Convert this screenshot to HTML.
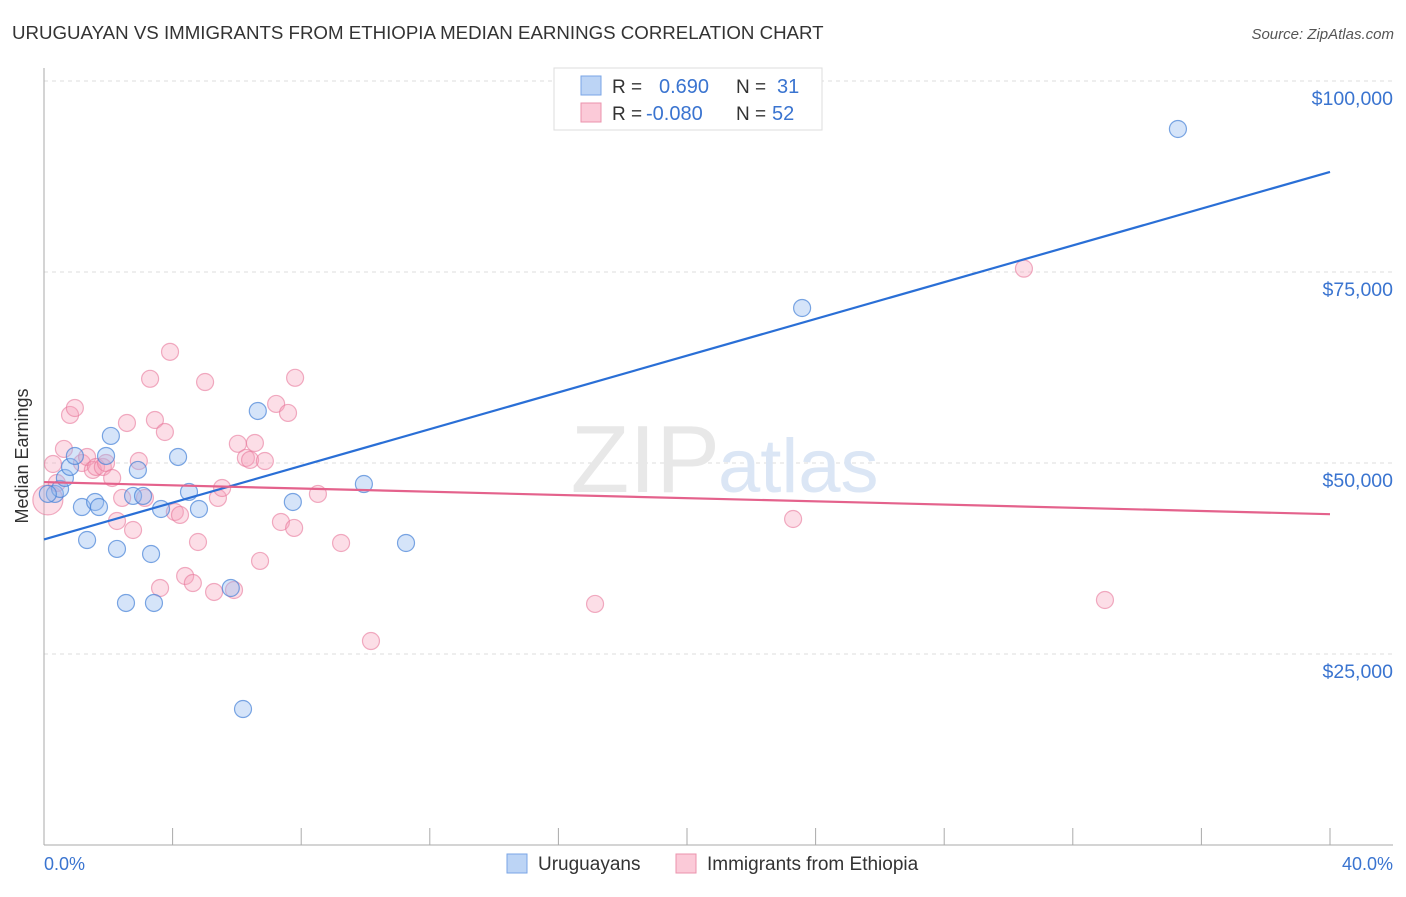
<!DOCTYPE html>
<html><head><meta charset="utf-8"><style>
body{margin:0;background:#fff;font-family:"Liberation Sans",sans-serif;}
svg text{font-family:"Liberation Sans",sans-serif;}
</style></head><body>
<svg width="1406" height="892" xmlns="http://www.w3.org/2000/svg">
<text x="12" y="39" font-size="18.7" fill="#333">URUGUAYAN VS IMMIGRANTS FROM ETHIOPIA MEDIAN EARNINGS CORRELATION CHART</text>
<text x="1394" y="39" font-size="15" fill="#555" text-anchor="end" font-style="italic">Source: ZipAtlas.com</text>
<g id="grid"></g>
<text x="720" y="492" font-size="96" fill="#e8e8e8" text-anchor="end" font-family="Liberation Serif">ZIP</text>
<text x="718" y="492" font-size="76" fill="#dbe6f5">atlas</text>
<line x1="44" y1="68" x2="44" y2="845" stroke="#aaa"/>
<line x1="44" y1="845" x2="1393" y2="845" stroke="#aaa"/>
<g id="xticks"></g>
<text x="28" y="456" font-size="18" fill="#333" text-anchor="middle" transform="rotate(-90 28 456)">Median Earnings</text>
<text x="44" y="870" font-size="18" fill="#3a74d0">0.0%</text>
<text x="1393" y="870" font-size="18" fill="#3a74d0" text-anchor="end">40.0%</text>
<g id="pts"></g>
<g id="lines"></g>
<g>
<rect x="554" y="68" width="268" height="62" fill="#fff" stroke="#ddd"/>
<rect x="581" y="76" width="20" height="19" fill="#bcd4f5" stroke="#7aa5e6"/>
<rect x="581" y="103" width="20" height="19" fill="#fbcad8" stroke="#eb93ad"/>
<text x="612" y="93" font-size="19" fill="#333">R =</text>
<text x="659" y="93" font-size="20" fill="#3a74d0">0.690</text>
<text x="736" y="93" font-size="19" fill="#333">N =</text>
<text x="777" y="93" font-size="20" fill="#3a74d0">31</text>
<text x="612" y="120" font-size="19" fill="#333">R =</text>
<text x="646" y="120" font-size="20" fill="#3a74d0">-0.080</text>
<text x="736" y="120" font-size="19" fill="#333">N =</text>
<text x="772" y="120" font-size="20" fill="#3a74d0">52</text>
</g>
<g>
<rect x="507" y="854" width="20" height="19" fill="#bcd4f5" stroke="#7aa5e6"/>
<text x="538" y="870" font-size="19" fill="#333">Uruguayans</text>
<rect x="676" y="854" width="20" height="19" fill="#fbcad8" stroke="#eb93ad"/>
<text x="707" y="870" font-size="19" fill="#333">Immigrants from Ethiopia</text>
</g>
</svg>
<script>
const yTicks=[25000,50000,75000,100000];
const yTickLabels=["$25,000","$50,000","$75,000","$100,000"];
const xTicks=[0,4,8,12,16,20,24,28,32,36,40];
const blueX=[0.34,0.50,0.65,0.81,0.96,1.18,1.34,1.59,1.71,1.93,2.08,2.27,2.55,2.77,2.92,3.08,3.33,3.42,3.64,4.17,4.51,4.82,5.81,6.19,6.65,7.74,9.95,11.26,23.58,35.27,0.12];
const blueY=[45950,46600,48040,49480,50920,44240,39920,44900,44240,50920,53540,38750,31680,45690,49090,45690,38090,31680,43980,50790,46210,43980,33640,17800,56810,44900,47250,39530,70290,93720,45950];
const pinkX=[0.12,0.28,0.40,0.62,0.81,0.96,1.18,1.34,1.52,1.62,1.83,1.93,2.12,2.27,2.43,2.58,2.77,2.95,3.14,3.30,3.45,3.61,3.76,3.92,4.07,4.23,4.39,4.63,4.79,5.01,5.29,5.41,5.54,5.91,6.03,6.28,6.41,6.56,6.72,6.87,7.22,7.37,7.59,7.78,7.81,8.52,9.24,10.17,17.14,23.30,30.48,33.00];
const pinkY=[45170,49870,47380,51840,56290,57200,50000,50790,49090,49480,49480,50000,48040,42410,45430,55240,41230,50260,45430,61020,55630,33640,54060,64550,43590,43200,35210,34290,39660,60600,33120,45430,46730,33380,52510,50660,50400,52620,37180,50260,57730,42280,56550,41500,61150,45950,39530,26700,31550,42670,75440,32070];
const blueTrend=[40000,88100];
const pinkTrend=[47500,43300];
const NS="http://www.w3.org/2000/svg";
const sx=v=>44+v/40*1286;
const sy=v=>845-v/25000*191;
function mk(t,a,p){const e=document.createElementNS(NS,t);for(const k in a)e.setAttribute(k,a[k]);p.appendChild(e);return e;}
const grid=document.getElementById('grid');
yTicks.forEach((v,i)=>{
 const l=mk('line',{x1:44,x2:1393,y1:sy(v),y2:sy(v),stroke:'#ddd','stroke-dasharray':'4,4'},grid);
 
 
 const t=mk('text',{x:1393,y:sy(v)+24,'font-size':19.5,fill:'#3a74d0','text-anchor':'end'},grid);
 t.textContent=yTickLabels[i];
 
 
});
const xt=document.getElementById('xticks');
xTicks.forEach(v=>{
 const l=mk('line',{x1:sx(v),x2:sx(v),y1:828,y2:845,stroke:'#aaa'},xt);
 
 
});
const pts=document.getElementById('pts');
pinkX.forEach((x,i)=>{
 const c=mk('circle',{cx:sx(x),cy:sy(pinkY[i]),r:i==0?15:8.5,fill:'rgba(246,160,186,0.35)',stroke:'rgba(232,120,155,0.6)','stroke-width':1.2},pts);
 
 
});
blueX.forEach((x,i)=>{
 const c=mk('circle',{cx:sx(x),cy:sy(blueY[i]),r:8.5,fill:'rgba(150,188,240,0.4)',stroke:'rgba(70,130,215,0.7)','stroke-width':1.2},pts);
 
 
});
const ln=document.getElementById('lines');
const b=mk('line',{x1:sx(0),y1:sy(blueTrend[0]),x2:sx(40),y2:sy(blueTrend[1]),stroke:'#2a6fd6','stroke-width':2.2},ln);


const p=mk('line',{x1:sx(0),y1:sy(pinkTrend[0]),x2:sx(40),y2:sy(pinkTrend[1]),stroke:'#e4628c','stroke-width':2.2},ln);


</script>
</body></html>
